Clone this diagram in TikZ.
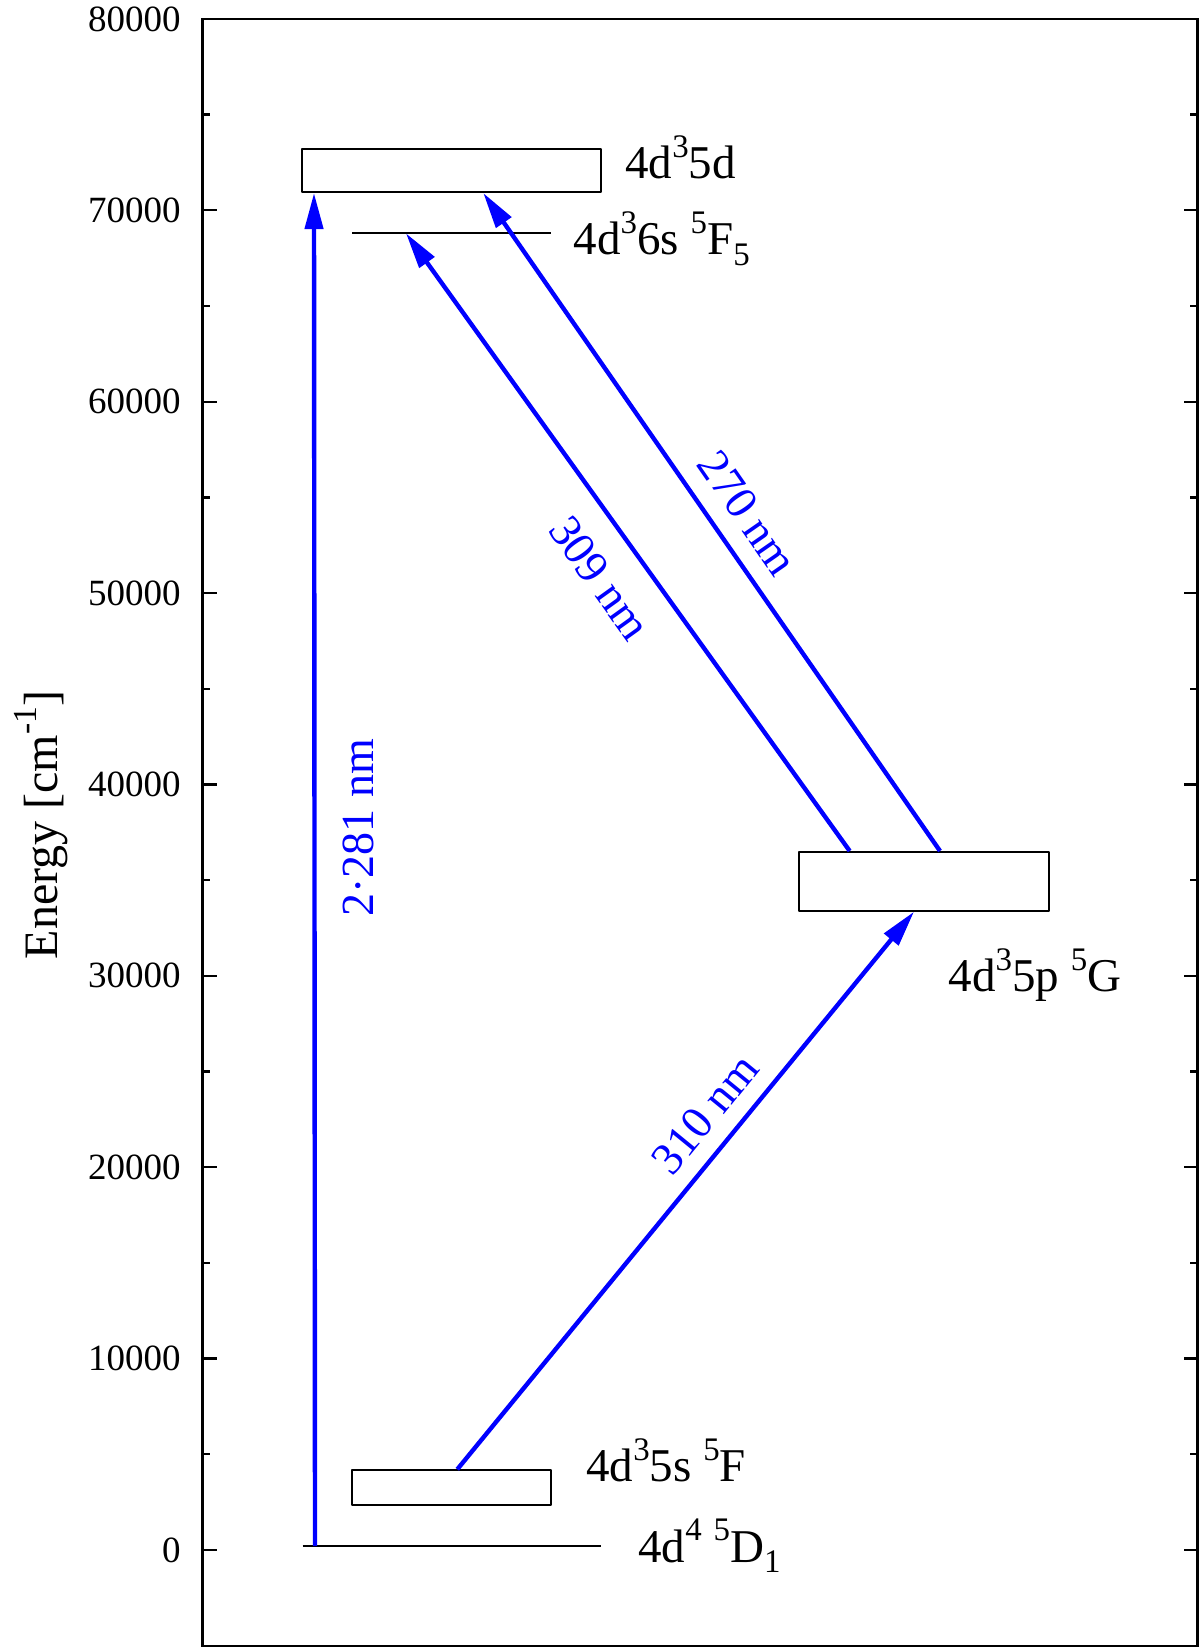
\documentclass[tikz,border=0pt]{standalone}
\usepackage{fontspec}
\setmainfont{Liberation Serif}
\usepackage{graphicx}
\usetikzlibrary{arrows.meta,calc}
\newcommand\sps[1]{\raisebox{0.45em}{\scalebox{0.7}{#1}}}
\newcommand\sbs[1]{\raisebox{-0.23em}{\scalebox{0.7}{#1}}}
\begin{document}
\begin{tikzpicture}[x=0.5pt,y=-0.5pt,
  axisline/.style={line width=1.15pt},
  box/.style={draw=black, line width=1pt, line join=round, inner sep=0pt},
  lvl/.style={line width=1pt},
  arr/.style={draw=blue, line width=2.2pt, -{Triangle[length=18pt,width=9pt]}},
  ticklab/.style={font=\fontsize{18.5}{20}\selectfont, inner sep=0pt, anchor=east},
  lvllab/.style={font=\fontsize{23.5}{25}\selectfont, inner sep=0pt, anchor=base west},
  arrlab/.style={font=\fontsize{23}{25}\selectfont, text=blue, inner sep=0pt}]
\useasboundingbox (0,0) rectangle (1200,1648);
% frame
\draw[axisline] (202.5,19) rectangle (1197.5,1645.7);
% ticks
\foreach \i in {0,...,8}{
  \pgfmathsetmacro\yy{1550-191.38*\i}
  \draw[axisline] (202.5,\yy) -- ++(14,0);
  \draw[axisline] (1197.5,\yy) -- ++(-14,0);
  \node[ticklab] (t\i) at (181,\yy) {\ifnum\i=0 0\else\i0000\fi};
}
\foreach \i in {0,...,7}{
  \pgfmathsetmacro\yy{1550-191.38*(\i+0.5)}
  \draw[axisline] (202.5,\yy) -- ++(7.5,0);
  \draw[axisline] (1197.5,\yy) -- ++(-7.5,0);
}
\node[font=\fontsize{24}{26}\selectfont, rotate=90, inner sep=0pt] (ylab) at (41,825) {Energy [cm\sps{-1}]};
% levels
\node[box, minimum width=149.35pt, minimum height=21.35pt] (d5) at (451.65,170.7) {};
\node[box, minimum width=124.7pt, minimum height=29.35pt] (p5) at (924,881.35) {};
\node[box, minimum width=99.5pt, minimum height=17.2pt] (s5) at (451.5,1487.5) {};
\coordinate (s6a) at (352.3,233.3);
\coordinate (s6b) at (550.7,233.3);
\coordinate (g0a) at (302.7,1546);
\coordinate (g0b) at (600.7,1546);
\draw[lvl] (s6a) -- (s6b);
\draw[lvl] (g0a) -- (g0b);
% level labels
\node[lvllab] (ld5) at (625,178.3) {4d\sps{3}5d};
\node[lvllab] (ls6) at (573.3,255) {4d\sps{3}6s \sps{5}F\sbs{5}};
\node[lvllab] (lp5) at (948.3,991.7) {4d\sps{3}5p \sps{5}G};
\node[lvllab] (ls5) at (586,1481.7) {4d\sps{3}5s \sps{5}F};
\node[lvllab] (lg0) at (638,1562) {4d\sps{4} \sps{5}D\sbs{1}};
% arrows
\draw[arr] ($(g0a)+(12.3,0)$) -- ($(d5.south west)+(12.7,0)$);
\draw[arr] ($(s5.north west)+(106.3,0)$) -- ($(p5.south west)+(115.7,0)$);
\draw[arr] ($(p5.north west)+(51.4,0)$) -- ($(s6a)+(53.7,0)$);
\draw[arr] ($(p5.north west)+(141.7,0)$) -- ($(d5.south west)+(182,0)$);
% arrow labels
\node[arrlab, rotate=90] (l2281) at (358,828) {2·281 nm};
\node[arrlab, rotate=-54.3] (l309) at (600,578) {309 nm};
\node[arrlab, rotate=-55.2] (l270) at (748,513) {270 nm};
\node[arrlab, rotate=50.75] (l310) at (705,1114) {310 nm};
\end{tikzpicture}
\end{document}
